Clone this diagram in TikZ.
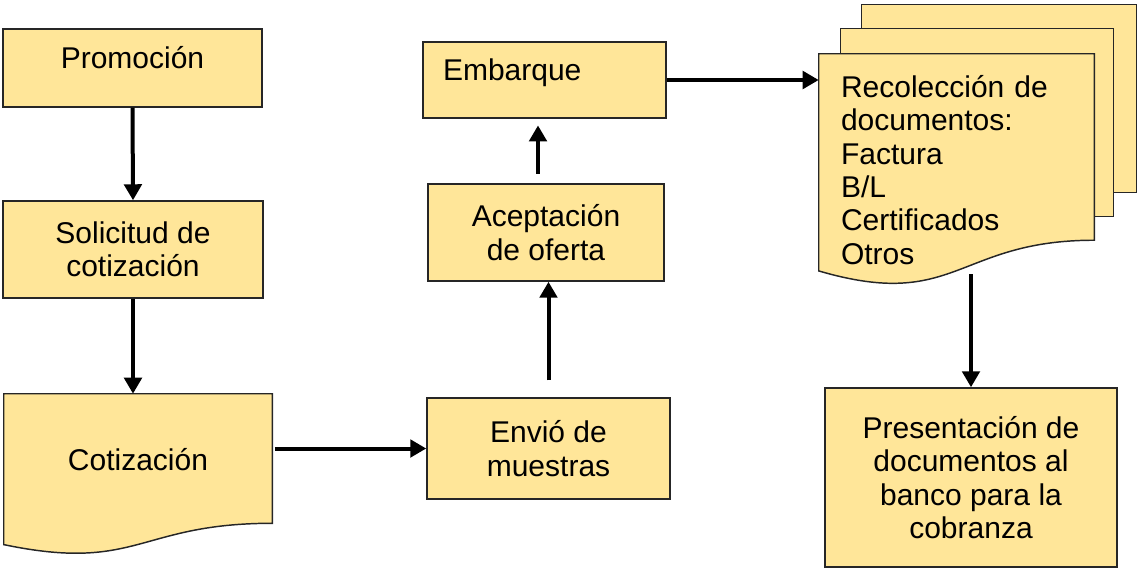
\documentclass[tikz,border=0pt]{standalone}
\usepackage{fontspec}
\setmainfont{Liberation Sans}
\usetikzlibrary{arrows.meta}
\usetikzlibrary{backgrounds}
\usetikzlibrary{calc}
\definecolor{boxfill}{RGB}{255,230,153}
\tikzset{>={Triangle[width=13pt,length=12pt]}}
\tikzset{
  proc/.style={draw=black!85,line width=1.1pt,fill=boxfill,inner sep=0pt,align=center,font=\fontsize{22.5}{25}\selectfont},
  doc/.style={inner sep=0pt,align=center,font=\fontsize{22.5}{25}\selectfont},
  sheet/.style={draw=black!85,line width=1.1pt,fill=boxfill},
  oneline/.style={text height=16pt,text depth=16pt},
  flowline/.style={->,line width=3pt,black}
}
%document outline round a node
\newcommand{\docpath}[1]{(#1.north west) -- (#1.north east) -- ($(#1.north east)!0.802!(#1.south east)$) .. controls ($(#1.north)!0.802!(#1.south)$) and ($(#1.north)!1.1075!(#1.south)$) .. ($(#1.north west)!0.934!(#1.south west)$) -- cycle}

\begin{document}
\begin{tikzpicture}[x=0.75pt,y=0.75pt,yscale=-1]
\useasboundingbox (0,0) rectangle (1139,569);

%Flowchart: Process
\node[proc,oneline,minimum width=194.25pt,minimum height=58.5pt] (promo) at (132.5,68) {Promoción};
%Flowchart: Process
\node[proc,minimum width=195pt,minimum height=72.75pt] (solic) at (133,249.5) {Solicitud de\\cotización};
%Flowchart: Document
\node[doc,oneline,text depth=22.75pt,minimum width=201pt,minimum height=120.75pt] (cot) at (138,474.5) {Cotización};
%Flowchart: Process
\node[proc,minimum width=182.25pt,minimum height=75.75pt] (envio) at (548.5,448.5) {Envió de\\muestras};
%Flowchart: Process
\node[proc,minimum width=177pt,minimum height=72.75pt] (acept) at (546,232.5) {Aceptación\\de oferta};
%Flowchart: Process
\node[proc,oneline,align=left,inner xsep=15pt,text width=152.25pt,minimum width=182.25pt,minimum height=57pt] (embar) at (544.5,80) {Embarque};
%Flowchart: Multidocument
\node[doc,align=left,inner xsep=16.5pt,text width=173.25pt,minimum width=206.25pt,minimum height=174pt] (recol) at (956.5,170) {Recolección de\\documentos:\\Factura\\B/L\\Certificados\\Otros};
%Flowchart: Process
\node[proc,minimum width=219pt,minimum height=134.25pt] (pres) at (971,477.5) {Presentación de\\documentos al\\banco para la\\cobranza};

\begin{scope}[on background layer]
%back sheets
\draw[sheet] (recol.north west) ++(43,-49) rectangle ++(275,188);
\draw[sheet] (recol.north west) ++(22,-25) rectangle ++(273,188);
\draw[sheet] \docpath{recol};
\draw[sheet] \docpath{cot};
\end{scope}

%Straight Lines
\draw[flowline] (promo.south) -- (solic.north);
\draw[flowline] (solic.south) -- (solic.south |- cot.north);
\draw[flowline,shorten <=2pt] (cot.east |- envio.west) -- (envio.west);
\draw[flowline,shorten <=12.75pt] (envio.north) -- (envio.north |- acept.south);
\draw[flowline,shorten <=7pt,shorten >=5pt] ([xshift=-6pt]acept.north) -- ([xshift=-6pt]acept.north |- embar.south);
\draw[flowline] (embar.east) -- (embar.east -| recol.west);
\draw[flowline,shorten <=-9pt] (pres.north |- recol.south) -- (pres.north);
\end{tikzpicture}
\end{document}
